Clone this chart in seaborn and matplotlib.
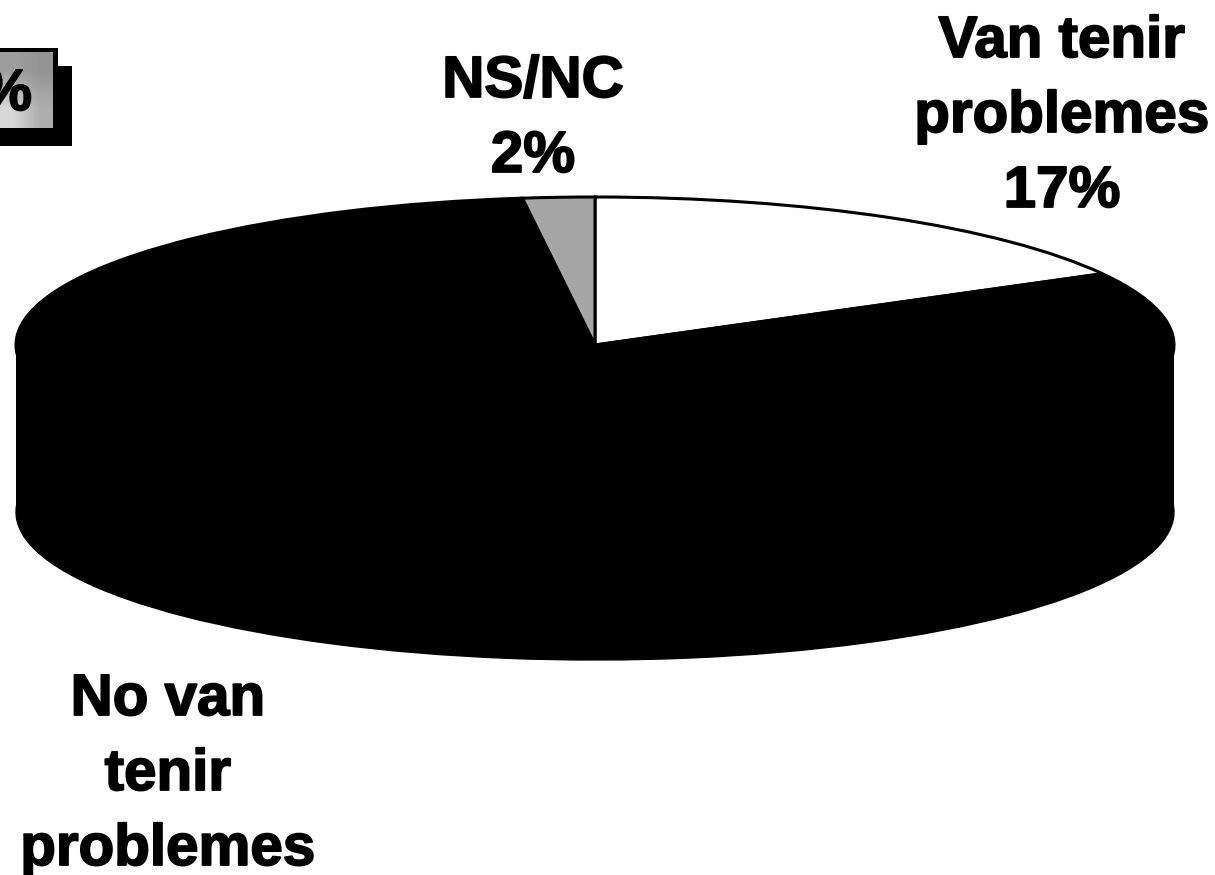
import matplotlib
matplotlib.use("Agg")
import matplotlib.pyplot as plt
import matplotlib.patheffects as pe
import seaborn as sns
from matplotlib.patches import Rectangle

# valeurs
categories = ["Van tenir problemes", "No van tenir problemes", "NS/NC"]
values = [17, 81, 2]
slice_colors = ["#ffffff", "#000000", "#a6a6a6"]

label_lines = [
    "Van tenir\nproblemes\n17%",
    "NS/NC\n2%",
    "No van\ntenir\nproblemes",
]
box_text = "%"

W, H = 1215, 875
cx, cy = 595, 345
rx, ry = 579, 148
depth = 167

sns.set_theme(style="white")
plt.rcParams["font.family"] = ["Liberation Sans", "DejaVu Sans"]

fig = plt.figure(figsize=(W / 100, H / 100), dpi=100, facecolor="white")
ax = fig.add_axes([0, 0, 1, 1])

# bas du cylindre puis flanc
ax.pie(values, colors=["#000000"] * len(values), startangle=90, counterclock=False,
       center=(0, -depth / ry), wedgeprops={"edgecolor": "black", "linewidth": 1})
ax.bar(0, depth / ry, width=2, bottom=-depth / ry, color="black", linewidth=0)

# dessus
ax.pie(values, colors=slice_colors, startangle=90, counterclock=False,
       wedgeprops={"edgecolor": "black", "linewidth": 2.2})

ax.set_aspect("auto")
ax.set_xlim(-cx / rx, (W - cx) / rx)
ax.set_ylim(-(H - cy) / ry, cy / ry)
ax.axis("off")


def px(x, y):
    return x / W, 1 - y / H


def box(x0, y0, x1, y1, color):
    fig.add_artist(Rectangle(px(x0, y1), (x1 - x0) / W, (y1 - y0) / H,
                             transform=fig.transFigure, facecolor=color, linewidth=0))


# cartouche coupé à gauche
box(0, 66, 72, 146, "#000000")
box(0, 48, 58, 128, "#000000")

grad = fig.add_axes([0, 1 - 128 / H, 53 / W, 76 / H], zorder=2)
grad.imshow([[0.62, 0.58], [0.84, 0.68]], cmap="gray", vmin=0, vmax=1,
            interpolation="bilinear", aspect="auto")
grad.axis("off")

# texte un peu plus gras, comme sur le scan
heavy = [pe.withStroke(linewidth=1.3, foreground="black")]

fig.text(*px(32, 110), box_text, ha="right", va="baseline", fontsize=42,
         fontweight="bold", color="black", path_effects=heavy)

label_pos = [(1062, 207), (533, 172), (168, 865)]
for text, (x, y) in zip(label_lines, label_pos):
    fig.text(*px(x, y), text, ha="center", va="baseline", fontsize=42, fontweight="bold",
             color="black", linespacing=1.5, multialignment="center", path_effects=heavy)

fig.savefig("out.png", dpi=100, facecolor="white")
